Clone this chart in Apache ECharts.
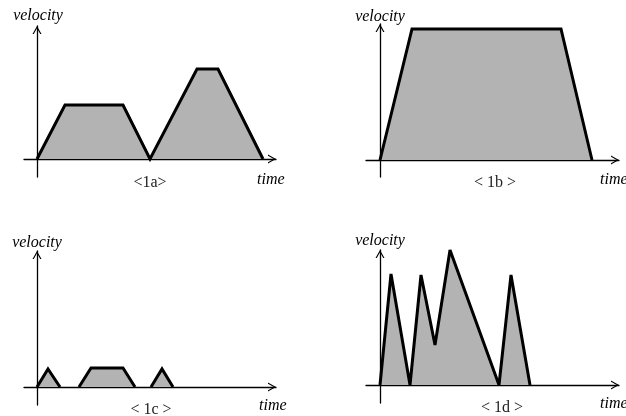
<!DOCTYPE html>
<html>
<head>
<meta charset="utf-8">
<title>velocity profiles</title>
<script src="https://cdn.jsdelivr.net/npm/echarts@6/dist/echarts.min.js"></script>
<style>
  html, body { margin: 0; padding: 0; background: #fff; }
  #chart { width: 626px; height: 416px; }
</style>
</head>
<body>
<div id="chart"></div>
<script>
// Velocity profiles: time / velocity pairs, null splits separate moves
const timeA = [0, 2.8, 8.6, 11.3, 16.0, 18.1, 22.6];
const velA  = [0, 5.4, 5.4, 0, 9.0, 9.0, 0];

const timeB = [0, 3.2, 18.1, 21.2];
const velB  = [0, 13.1, 13.1, 0];

const timeC = [0, 1.1, 2.3, null, 4.2, 5.4, 8.6, 9.8, null, 11.4, 12.5, 13.6];
const velC  = [0, 1.8, 0, null, 0, 1.9, 1.9, 0, null, 0, 1.8, 0];

const timeD = [0, 1.1, 3.0, 4.1, 5.5, 7.0, 11.9, 13.1, 15.0];
const velD  = [0, 11.1, 0, 11.0, 4.0, 13.5, 0, 11.0, 0];

const panelLabels = ['<1a>', '< 1b >', '< 1c >', '< 1d >'];
const yAxisName = 'velocity';
const xAxisName = 'time';

// Layout of the four small plots (pixel boxes and axis extents)
const panels = [
  { t: timeA, v: velA, box: { left: 24,  top: 26,  right: 350, bottom: 239 }, x: [-1.3, 23.9], y: [-1.8, 13.3],
    yName: [38, 16], xName: [257, 180], label: [150, 183] },
  { t: timeB, v: velB, box: { left: 366, top: 24,  right: 7,   bottom: 239 }, x: [-1.4, 23.9], y: [-1.7, 13.6],
    yName: [380, 17], xName: [600, 180], label: [495, 183] },
  { t: timeC, v: velC, box: { left: 24,  top: 251, right: 350, bottom: 11 },  x: [-1.3, 23.9], y: [-1.8, 13.6],
    yName: [37, 243], xName: [259, 406], label: [151, 410] },
  { t: timeD, v: velD, box: { left: 366, top: 250, right: 7,   bottom: 13 },  x: [-1.4, 23.9], y: [-1.8, 13.5],
    yName: [380, 241], xName: [600, 404], label: [502, 408] }
];

// open chevron arrow head, tip pointing up (rotated by the axis)
const chevron = 'path://M0,8 L4.5,0 L9,8 L7.7,8 L4.5,2.3 L1.3,8 Z';
const arrowW = 9, arrowH = 8;

function segments(t, v) {
  const out = [];
  let cur = [];
  for (let i = 0; i < t.length; i++) {
    if (t[i] === null || v[i] === null) {
      if (cur.length) out.push(cur);
      cur = [];
    } else {
      cur.push([t[i], v[i]]);
    }
  }
  if (cur.length) out.push(cur);
  return out;
}

function axisBase(idx, range) {
  return {
    type: 'value',
    gridIndex: idx,
    min: range[0],
    max: range[1],
    axisLine: {
      show: true,
      onZero: true,
      symbol: ['none', chevron],
      symbolSize: [arrowW, arrowH],
      symbolOffset: [0, -arrowH / 2],
      lineStyle: { color: '#000', width: 1.3 }
    },
    axisTick: { show: false },
    axisLabel: { show: false },
    splitLine: { show: false }
  };
}

const grid = [], xAxis = [], yAxis = [], series = [], graphic = [];
const serif = 'italic 16px "Liberation Serif", "Times New Roman", serif';
const serifUp = '16px "Liberation Serif", "Times New Roman", serif';

panels.forEach((p, i) => {
  grid.push(Object.assign({ outerBoundsMode: 'none', containLabel: false }, p.box));
  xAxis.push(axisBase(i, p.x));
  yAxis.push(axisBase(i, p.y));
  segments(p.t, p.v).forEach(seg => {
    series.push({
      type: 'line',
      xAxisIndex: i,
      yAxisIndex: i,
      data: seg,
      symbol: 'none',
      silent: true,
      animation: false,
      lineStyle: { color: '#000', width: 3, join: 'miter', miterLimit: 2.5 },
      areaStyle: { color: '#b3b3b3', opacity: 1, origin: 0 },
      z: 3
    });
  });
  graphic.push({
    type: 'text', x: p.yName[0], y: p.yName[1],
    style: { text: yAxisName, font: serif, fill: '#000', textAlign: 'center', textVerticalAlign: 'middle' }
  });
  graphic.push({
    type: 'text', x: p.xName[0], y: p.xName[1],
    style: { text: xAxisName, font: serif, fill: '#000', textAlign: 'left', textVerticalAlign: 'middle' }
  });
  graphic.push({
    type: 'text', x: p.label[0], y: p.label[1],
    style: { text: panelLabels[i], font: serifUp, fill: '#222', textAlign: 'center', textVerticalAlign: 'middle' }
  });
});

const chart = echarts.init(document.getElementById('chart'), null, { renderer: 'canvas' });
chart.setOption({
  backgroundColor: '#fff',
  animation: false,
  grid, xAxis, yAxis, series, graphic
});
</script>
</body>
</html>
